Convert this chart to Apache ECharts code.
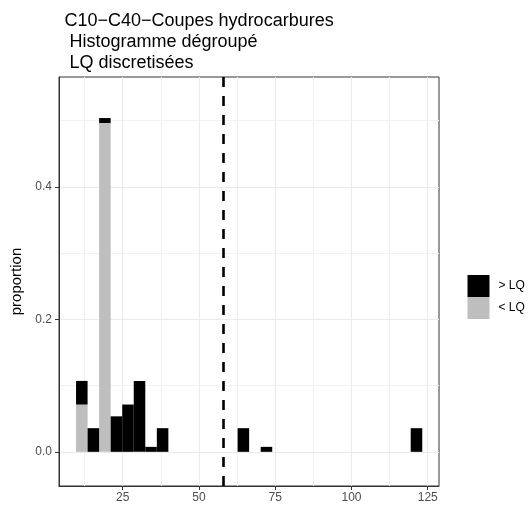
<!DOCTYPE html>
<html><head><meta charset="utf-8">
<script src="https://cdn.jsdelivr.net/npm/echarts@6/dist/echarts.min.js"></script>
<style>html,body{margin:0;padding:0;background:#fff}#c{width:530px;height:511px}</style>
</head><body><div id="c"></div>
<script>
// ---- data ----
const titleLines = ["C10\u2212C40\u2212Coupes hydrocarbures", " Histogramme dégroupé", " LQ discretisées"];
const binWidth = 3.784;
const binLeft  = [9.69, 13.474, 17.258, 21.042, 24.826, 28.61, 32.394, 36.178, 62.666, 70.234, 119.426];
const belowLQ  = [0.0714, 0, 0.4965, 0, 0, 0, 0, 0, 0, 0, 0];
const aboveLQ  = [0.0357, 0.0357, 0.0075, 0.0536, 0.0714, 0.107, 0.0075, 0.0357, 0.0357, 0.0075, 0.0357];
const lqLine = 58;
const xTicks = [25, 50, 75, 100, 125];
const xMinor = [12.5, 37.5, 62.5, 87.5, 112.5];
const yTicks = [0, 0.2, 0.4];
const yMinor = [0.1, 0.3, 0.5];
const seriesNames = ["> LQ", "< LQ"];

const FONT = "Liberation Sans, Arial, sans-serif";
const chart = echarts.init(document.getElementById('c'), null, {renderer: 'canvas'});

function rectItem(params, api) {
  const x0 = api.value(0), x1 = api.value(1), y0 = api.value(2), y1 = api.value(3);
  if (y1 - y0 <= 0) return null;
  const p0 = api.coord([x0, y1]);
  const p1 = api.coord([x1, y0]);
  return {type: 'rect', shape: {x: p0[0], y: p0[1], width: p1[0] - p0[0], height: p1[1] - p0[1]},
          style: {fill: api.visual('color')}};
}

const grayData = binLeft.map((l, i) => [l, l + binWidth, 0, belowLQ[i]]);
const blackData = binLeft.map((l, i) => [l, l + binWidth, belowLQ[i], belowLQ[i] + aboveLQ[i]]);

const gridLine = (arr, axis, color) => arr.map(v => ({[axis]: v, lineStyle: {color: color}}));

chart.setOption({
  animation: false,
  title: {
    text: titleLines.join('\n'), left: 59.5, top: 6,
    textStyle: {fontFamily: FONT, fontSize: 18, fontWeight: 'normal', color: '#000', lineHeight: 21}
  },
  legend: {
    orient: 'vertical', left: 462.5, top: 270, itemWidth: 22, itemHeight: 22, itemGap: 0,
    data: seriesNames.map(n => ({name: n, icon: 'rect'})),
    textStyle: {fontFamily: FONT, fontSize: 12, color: '#000', padding: [0, 0, 0, 4]}
  },
  grid: {left: 59, top: 77, width: 380, height: 409, show: true, borderColor: '#333', borderWidth: 1, backgroundColor: '#fff'},
  xAxis: {
    type: 'value', min: 4.1, max: 128.7,
    axisLine: {show: true, onZero: false, lineStyle: {color: '#333', width: 1}},
    axisTick: {show: true, customValues: xTicks, length: 4, lineStyle: {color: '#333'}},
    axisLabel: {customValues: xTicks, margin: 6, fontFamily: FONT, fontSize: 12, color: '#4d4d4d'},
    splitLine: {show: false}
  },
  yAxis: {
    type: 'value', min: -0.0516, max: 0.566,
    name: 'proportion', nameLocation: 'middle', nameGap: 28, nameRotate: 90,
    nameTextStyle: {fontFamily: FONT, fontSize: 15, color: '#000'},
    axisLine: {show: true, onZero: false, lineStyle: {color: '#333', width: 1}},
    axisTick: {show: true, customValues: yTicks, length: 4, lineStyle: {color: '#333'}},
    axisLabel: {customValues: yTicks, margin: 7, fontFamily: FONT, fontSize: 12, color: '#4d4d4d',
                formatter: v => v.toFixed(1)},
    splitLine: {show: false}
  },
  series: [
    {
      type: 'line', data: [], silent: true, z: 0,
      markLine: {
        silent: true, symbol: 'none', label: {show: false}, animation: false, z: 0,
        lineStyle: {type: 'solid', width: 1},
        data: [].concat(gridLine(xMinor, 'xAxis', '#f2f2f2'), gridLine(yMinor, 'yAxis', '#f2f2f2'),
                        gridLine(xTicks, 'xAxis', '#ebebeb'), gridLine(yTicks, 'yAxis', '#ebebeb'))
      }
    },
    {name: seriesNames[1], type: 'custom', renderItem: rectItem, data: grayData, itemStyle: {color: '#bebebe'}, z: 10, encode: {x: [0, 1], y: [2, 3]}},
    {name: seriesNames[0], type: 'custom', renderItem: rectItem, data: blackData, itemStyle: {color: '#000'}, z: 10, encode: {x: [0, 1], y: [2, 3]},
     markLine: {silent: true, symbol: 'none', label: {show: false}, animation: false, z: 20,
                lineStyle: {type: [10, 9], color: '#000', width: 2.6}, data: [{xAxis: lqLine}]}}
  ]
});
</script></body></html>
